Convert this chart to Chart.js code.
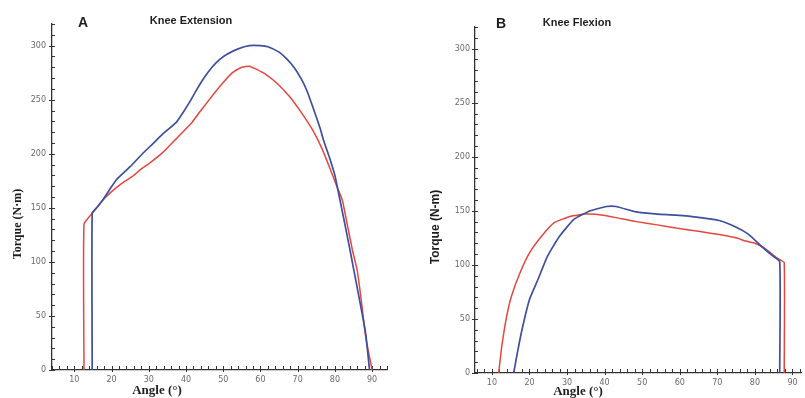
<!DOCTYPE html>
<html>
<head>
<meta charset="utf-8">
<script src="https://cdn.jsdelivr.net/npm/chart.js@4/dist/chart.umd.min.js"></script>
<style>
  html, body { margin: 0; padding: 0; background: #fff; }
  #wrap { position: relative; width: 805px; height: 398px; overflow: hidden; }
  .panel { position: absolute; top: 0; width: 400px; height: 398px; }
  #panelA { left: 0; }
  #panelB { left: 405px; }
</style>
</head>
<body>
<div id="wrap">
  <div class="panel" id="panelA"><canvas id="chartA"></canvas></div>
  <div class="panel" id="panelB"><canvas id="chartB"></canvas></div>
</div>
<script>
'use strict';

// A - knee extension
var extAngleBlue  = [14.8, 14.8, 16, 17.6, 19.5, 21.3, 25, 28.3, 31, 34, 37.4, 39, 41, 43, 45, 47, 49, 51, 54, 57, 60, 62, 65, 67, 69, 71, 72.4, 74, 75.9, 77, 78.5, 80, 81.2, 82.5, 84, 85.5, 87, 88.3, 89.3];
var extTorqueBlue = [0, 145, 150, 157, 167, 176, 188, 200, 209, 219, 229, 237, 248, 260, 271, 280, 287, 292, 297, 300, 300, 299, 294, 288, 280, 269, 259, 244, 225, 212, 197, 180, 160, 138, 112, 85, 58, 33, 0];
var extAngleRed   = [12.6, 12.6, 14.8, 16, 17.6, 20, 22.5, 25.6, 28, 30.1, 33.7, 37.4, 41.6, 44, 47.6, 50, 52.5, 55, 57, 59, 61.6, 64.5, 67.8, 71, 74, 76.5, 78.5, 80.5, 82, 83.3, 84.7, 86, 87, 88.3, 90];
var extTorqueRed  = [0, 135, 145, 150, 157, 165, 172, 179, 186, 191, 201, 214, 229, 240, 256, 266, 275, 280, 281, 278, 273, 265, 253, 238, 222, 205, 188, 170, 157, 135, 111, 92, 67, 30, 0];

// B - knee flexion
var flexAngleBlue  = [15.8, 16.9, 18.2, 20, 22.2, 24.8, 27.9, 31.8, 36.2, 40.5, 43, 48.4, 54, 59, 65, 70.5, 74.9, 78.4, 81.8, 84.5, 86.6, 86.6];
var flexTorqueBlue = [0, 21, 43, 68, 86, 108, 126, 142, 150, 154, 154, 149, 147, 146, 144, 141, 135, 128, 117, 109, 103, 0];
var flexAngleRed   = [11.8, 12.6, 13.9, 15.2, 17.4, 20, 23.1, 26.6, 31, 35, 39.7, 44, 48.4, 54, 59, 65, 70.5, 75, 77.5, 80, 81.8, 83.5, 85.3, 86.5, 87.8, 87.8];
var flexTorqueRed  = [0, 24, 52, 71, 92, 111, 126, 139, 145, 147, 146, 143, 140, 137, 134, 131, 128, 125, 122, 120, 117, 113, 108, 105, 102, 0];

var torqueLabelStep = 50;
var angleLabelStep = 10;

var BLUE = '#3d4f9f';
var RED = '#e5463f';

function toPoints(xs, ys) {
    return xs.map(function(x, i) { return { x: x, y: ys[i] }; });
}

function stepTicks(lo, hi, step) {
    var out = [];
    var v = Math.ceil(lo / step) * step;
    for (; v <= hi + 1e-9; v += step) out.push({ value: Math.round(v * 100) / 100 });
    return out;
}

// small inward tick marks, like the original plot
var innerTicks = {
    id: 'innerTicks',
    beforeDatasetsDraw: function(chart) {
        var ctx = chart.ctx, xs = chart.scales.x, ys = chart.scales.y;
        ctx.save();
        ctx.strokeStyle = '#333';
        ctx.lineWidth = 1;
        ctx.beginPath();
        xs.ticks.forEach(function(t) {
            var px = Math.round(xs.getPixelForValue(t.value)) + 0.5;
            var major = t.value % angleLabelStep === 0;
            ctx.moveTo(px, ys.bottom + (major ? 2 : 0));
            ctx.lineTo(px, ys.bottom - 4);
        });
        ys.ticks.forEach(function(t) {
            var py = Math.round(ys.getPixelForValue(t.value)) + 0.5;
            var major = t.value % torqueLabelStep === 0;
            ctx.moveTo(xs.left - (major ? 3 : 0), py);
            ctx.lineTo(xs.left + 3, py);
        });
        ctx.stroke();
        ctx.restore();
    }
};

// panel letters, titles and axis titles
var panelText = {
    id: 'panelText',
    afterDraw: function(chart, args, opts) {
        var ctx = chart.ctx;
        (opts.items || []).forEach(function(it) {
            ctx.save();
            ctx.font = it.font;
            ctx.fillStyle = it.color || '#1e1e1e';
            ctx.textAlign = 'center';
            ctx.textBaseline = 'middle';
            ctx.translate(it.x, it.y);
            if (it.rotate) ctx.rotate(it.rotate);
            ctx.fillText(it.text, 0, 0);
            ctx.restore();
        });
    }
};

function makePanel(id, cfg) {
    var ctx = document.getElementById(id);
    return new Chart(ctx, {
        type: 'scatter',
        data: {
            datasets: [{
                data: toPoints(cfg.blueX, cfg.blueY),
                borderColor: BLUE,
                borderWidth: 1.7,
                showLine: true,
                pointRadius: 0,
                tension: 0.15
            }, {
                data: toPoints(cfg.redX, cfg.redY),
                borderColor: RED,
                borderWidth: 1.5,
                showLine: true,
                pointRadius: 0,
                tension: 0.15
            }]
        },
        plugins: [innerTicks, panelText],
        options: {
            responsive: true,
            maintainAspectRatio: false,
            animation: false,
            devicePixelRatio: 1,
            layout: { padding: { top: cfg.top, right: cfg.right, left: 0, bottom: 0 } },
            plugins: {
                legend: { display: false },
                tooltip: { enabled: false },
                panelText: { items: cfg.texts }
            },
            scales: {
                x: {
                    type: 'linear',
                    min: cfg.xMin,
                    max: cfg.xMax,
                    afterBuildTicks: function(s) { s.ticks = stepTicks(cfg.xMin, cfg.xMax, 2); },
                    afterFit: function(s) { s.height = cfg.xHeight; },
                    grid: { display: false, drawTicks: false },
                    border: { display: true, color: '#333', width: 1.3 },
                    ticks: {
                        autoSkip: false,
                        maxRotation: 0,
                        padding: 5,
                        color: '#6a6a6a',
                        font: { family: 'DejaVu Sans', size: 8 },
                        callback: function(v) { return v % angleLabelStep === 0 ? String(v) : ''; }
                    }
                },
                y: {
                    type: 'linear',
                    min: 0,
                    max: 320,
                    afterBuildTicks: function(s) { s.ticks = stepTicks(0, 320, 10); },
                    afterFit: function(s) { s.width = cfg.yWidth; },
                    grid: { display: false, drawTicks: false },
                    border: { display: true, color: '#333', width: 1.3 },
                    ticks: {
                        autoSkip: false,
                        padding: cfg.yPad,
                        color: '#6a6a6a',
                        font: { family: 'DejaVu Sans', size: 8 },
                        callback: function(v) { return v % torqueLabelStep === 0 ? String(v) : ''; }
                    }
                }
            }
        }
    });
}

makePanel('chartA', {
    blueX: extAngleBlue, blueY: extTorqueBlue,
    redX: extAngleRed, redY: extTorqueRed,
    xMin: 4, xMax: 94,
    top: 24, right: 13, yWidth: 52, xHeight: 28, yPad: 6,
    texts: [
        { text: 'A', x: 83, y: 23, font: 'bold 14px "Liberation Sans"' },
        { text: 'Knee Extension', x: 191, y: 21, font: 'bold 11px "Liberation Sans"' },
        { text: 'Torque (N\u00b7m)', x: 18, y: 224, rotate: -Math.PI / 2, font: 'bold 12px "Liberation Serif"' },
        { text: 'Angle (\u00b0)', x: 157, y: 391, font: 'bold 13px "Liberation Serif"' }
    ]
});

makePanel('chartB', {
    blueX: flexAngleBlue, blueY: flexTorqueBlue,
    redX: flexAngleRed, redY: flexTorqueRed,
    xMin: 5.5, xMax: 92.4,
    top: 27, right: 0, yWidth: 70, xHeight: 25, yPad: 5,
    texts: [
        { text: 'B', x: 96, y: 24, font: 'bold 14px "Liberation Sans"' },
        { text: 'Knee Flexion', x: 172, y: 23, font: 'bold 11px "Liberation Sans"' },
        { text: 'Torque (N-m)', x: 31, y: 227, rotate: -Math.PI / 2, font: 'bold 12px "Liberation Sans"' },
        { text: 'Angle (\u00b0)', x: 173, y: 392, font: 'bold 13px "Liberation Serif"' }
    ]
});
</script>
</body>
</html>
